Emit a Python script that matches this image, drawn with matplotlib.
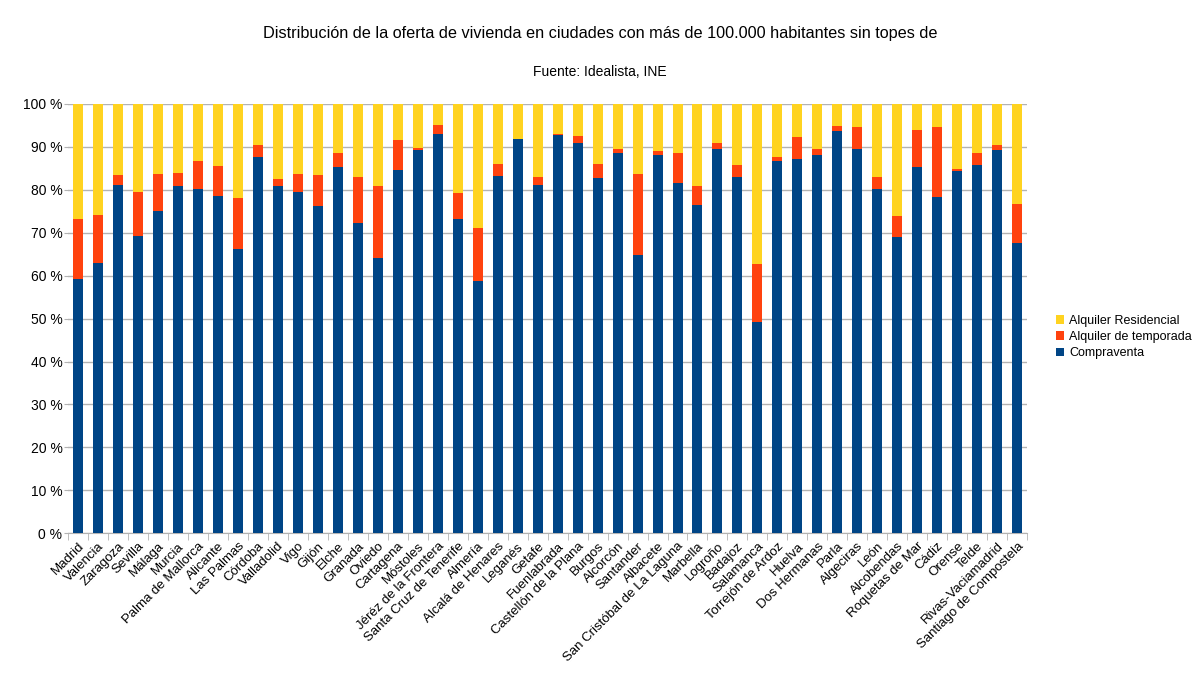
import numpy as np
import matplotlib.pyplot as plt
from matplotlib.ticker import FixedLocator

plt.rcParams['font.family'] = ['Liberation Sans', 'DejaVu Sans']

# Distribución de la oferta de vivienda por ciudad (%)
ciudades = ["Madrid", "Valencia", "Zaragoza", "Sevilla", "Málaga", "Murcia",
            "Palma de Mallorca", "Alicante", "Las Palmas", "Córdoba", "Valladolid",
            "Vigo", "Gijón", "Elche", "Granada", "Oviedo", "Cartagena", "Móstoles",
            "Jéréz de la Frontera", "Santa Cruz de Tenerife", "Almería",
            "Alcalá de Henares", "Leganés", "Getafe", "Fuenlabrada",
            "Castellón de la Plana", "Burgos", "Alcorcón", "Santander", "Albacete",
            "San Cristóbal de La Laguna", "Marbella", "Logroño", "Badajoz",
            "Salamanca", "Torrejón de Ardoz", "Huelva", "Dos Hermanas", "Parla",
            "Algeciras", "León", "Alcobendas", "Roquetas de Mar", "Cádiz", "Orense",
            "Telde", "Rivas-Vaciamadrid", "Santiago de Compostela"]

compraventa = [59.2, 62.9, 81.1, 69.2, 75.1, 80.8, 80.1, 78.6, 66.1, 87.7, 80.8,
               79.5, 76.2, 85.3, 72.3, 64.0, 84.5, 89.3, 93.1, 73.2, 58.7, 83.3,
               91.8, 81.2, 92.8, 90.9, 82.8, 88.6, 64.9, 88.2, 81.5, 76.5, 89.5,
               83.0, 49.2, 86.8, 87.1, 88.2, 93.6, 89.5, 80.1, 68.9, 85.2, 78.3,
               84.3, 85.8, 89.2, 67.6]

temporada = [14.1, 11.3, 2.4, 10.4, 8.5, 3.2, 6.6, 7.0, 12.1, 2.7, 1.8,
             4.2, 7.3, 3.2, 10.6, 16.9, 7.2, 0.5, 2.0, 6.0, 12.3, 2.6,
             0.1, 1.9, 0.3, 1.6, 3.1, 0.8, 18.8, 0.8, 7.0, 4.4, 1.3,
             2.7, 13.6, 0.8, 5.2, 1.2, 1.3, 5.1, 2.9, 4.9, 8.7, 16.4,
             0.5, 2.8, 1.2, 9.2]

residencial = [26.7, 25.8, 16.5, 20.4, 16.4, 16.0, 13.3, 14.4, 21.8, 9.6, 17.4,
               16.3, 16.5, 11.5, 17.1, 19.1, 8.3, 10.2, 4.9, 20.8, 29.0, 14.1,
               8.1, 16.9, 6.9, 7.5, 14.1, 10.6, 16.3, 11.0, 11.5, 19.1, 9.2,
               14.3, 37.2, 12.4, 7.7, 10.6, 5.1, 5.4, 17.0, 26.2, 6.1, 5.3,
               15.2, 11.4, 9.6, 23.2]

azul = '#004586'
rojo = '#ff420e'
amarillo = '#ffd320'

fig = plt.figure(figsize=(12, 6.75), dpi=100)
ax = fig.add_axes([0.0567, 0.21, 0.7993, 0.636])

x = np.arange(len(ciudades))
c = np.array(compraventa)
t = np.array(temporada)
r = np.array(residencial)

ax.bar(x, c, 0.5, color=azul, label='Compraventa', zorder=3)
ax.bar(x, t, 0.5, bottom=c, color=rojo, label='Alquiler de temporada', zorder=3)
ax.bar(x, r, 0.5, bottom=c + t, color=amarillo, label='Alquiler Residencial', zorder=3)

ax.set_xlim(-0.5, len(ciudades) - 0.5)
ax.set_ylim(0, 100)
ax.set_yticks(np.arange(0, 101, 10))
ax.set_yticklabels([f'{v} %' for v in range(0, 101, 10)])
ax.grid(axis='y', color='#b3b3b3', linewidth=1, zorder=0)

ax.set_xticks(x)
ax.set_xticklabels(ciudades, rotation=45, ha='right', rotation_mode='anchor', fontsize=9.5)
ax.tick_params(axis='x', which='major', length=0, pad=5)
ax.xaxis.set_minor_locator(FixedLocator(np.arange(-0.5, len(ciudades), 1)))
ax.tick_params(axis='x', which='minor', length=5, color='#b3b3b3')
ax.tick_params(axis='y', length=3, pad=1, color='#b3b3b3', labelsize=10)

for s in ['top', 'right', 'left']:
    ax.spines[s].set_visible(False)
ax.spines['bottom'].set_color('#b3b3b3')

handles, labels = ax.get_legend_handles_labels()
ax.legend(handles[::-1], labels[::-1], loc='center left', bbox_to_anchor=(1.018, 0.457),
          frameon=False, fontsize=9, handlelength=0.7, handleheight=0.7,
          handletextpad=0.4, labelspacing=0.35)

fig.text(0.5, 0.951, 'Distribución de la oferta de vivienda en ciudades con más de 100.000 habitantes sin topes de',
         ha='center', va='center', fontsize=11.7)
fig.text(0.5, 0.893, 'Fuente: Idealista, INE', ha='center', va='center', fontsize=10)

fig.savefig('out.png', dpi=100)
